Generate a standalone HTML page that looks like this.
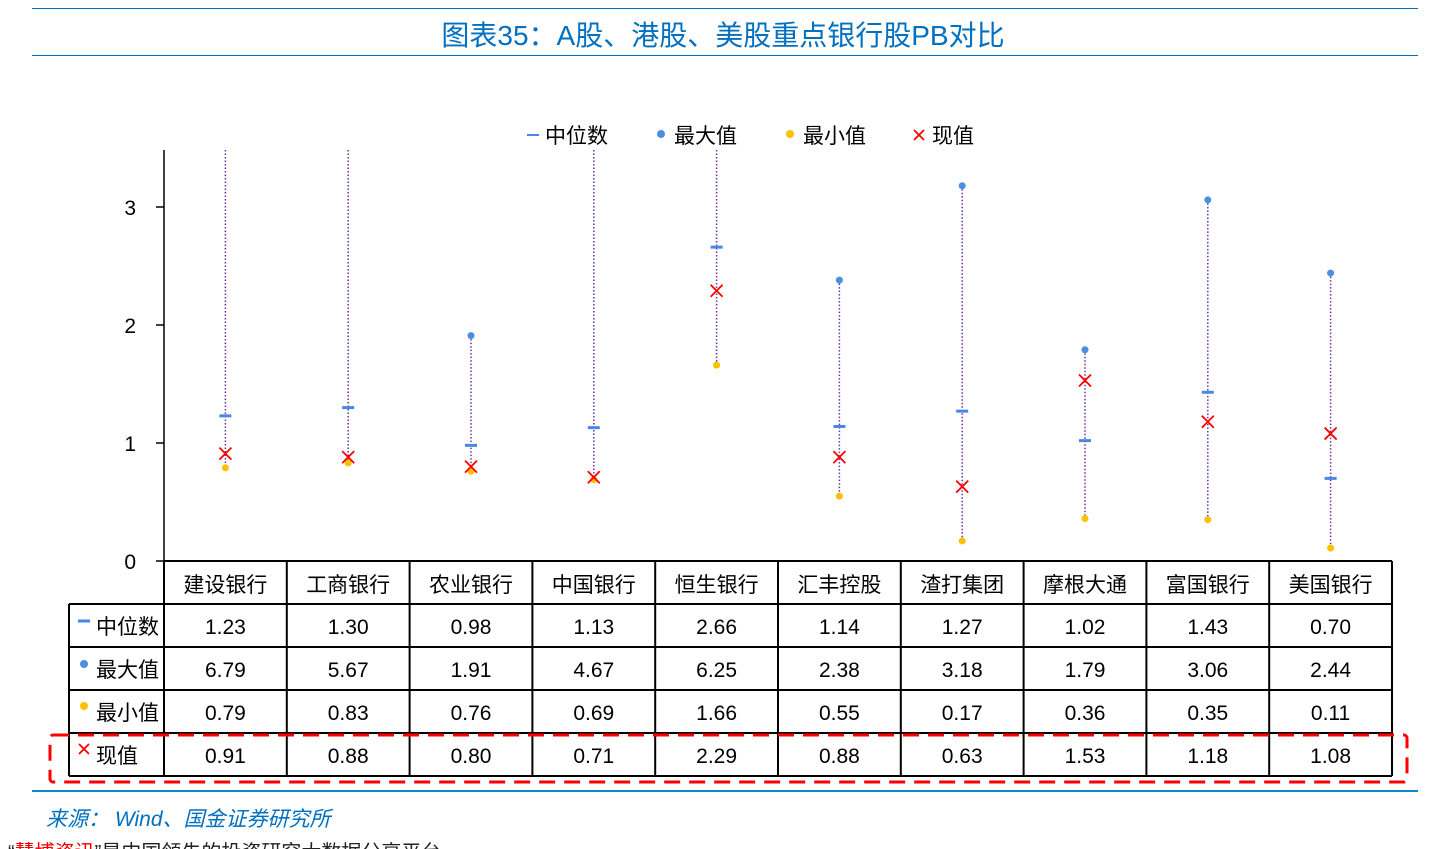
<!DOCTYPE html>
<html><head><meta charset="utf-8"><style>
html,body{margin:0;width:1440px;height:849px;overflow:hidden;background:#fff;font-family:"Liberation Sans","Noto Sans CJK SC",sans-serif;position:relative}
.abs{position:absolute}
</style></head><body>
<div class="abs" style="left:32px;top:8px;width:1386px;height:1px;background:#0070c0"></div>
<div class="abs" style="left:0;top:14px;width:1446px;text-align:center;font-size:28px;color:#0070c0">图表35：A股、港股、美股重点银行股PB对比</div>
<div class="abs" style="left:32px;top:55px;width:1386px;height:1px;background:#0070c0"></div>
<svg class="abs" style="left:0;top:0" width="1440" height="849" id="svg"></svg>
<div class="abs" style="left:32px;top:790px;width:1386px;height:2px;background:#0b8ad0"></div>
<div class="abs" style="left:46px;top:803px;font-size:21px;font-style:italic;color:#0070c0">来源： Wind、国金证券研究所</div>
<div class="abs" style="left:8px;top:836px;font-size:20px;color:#222">“<span style="color:#e00">慧博资讯</span>”是中国领先的投资研究大数据分享平台</div>
<script>
const banks=["建设银行","工商银行","农业银行","中国银行","恒生银行","汇丰控股","渣打集团","摩根大通","富国银行","美国银行"];
const median=[1.23,1.30,0.98,1.13,2.66,1.14,1.27,1.02,1.43,0.70];
const maxV=[6.79,5.67,1.91,4.67,6.25,2.38,3.18,1.79,3.06,2.44];
const minV=[0.79,0.83,0.76,0.69,1.66,0.55,0.17,0.36,0.35,0.11];
const cur=[0.91,0.88,0.80,0.71,2.29,0.88,0.63,1.53,1.18,1.08];
const yTicks=[0,1,2,3];
const svg=document.getElementById('svg');const NS='http://www.w3.org/2000/svg';
function mk(t,a,name,txt){const e=document.createElementNS(NS,t);for(const k in a)e.setAttribute(k,a[k]);


if(txt!==undefined)e.textContent=txt;svg.appendChild(e);return e;}
const X0=164,CW=122.8,Y0=561,YS=118,YTOP=150;
const x=i=>X0+CW*(i+0.5);
const y=v=>Math.max(YTOP,Y0-v*YS);
mk('line',{x1:X0,y1:YTOP,x2:X0,y2:Y0,stroke:'#000','stroke-width':1.5},'y-axis');
yTicks.forEach(t=>{mk('line',{x1:X0-8,y1:y(t),x2:X0,y2:y(t),stroke:'#000','stroke-width':1.5},'y-tick');
mk('text',{x:136,y:y(t)+8,'font-size':21,'text-anchor':'end',fill:'#000'},'y-tick-label',String(t));});
banks.forEach((b,i)=>{const cx=x(i);
mk('line',{x1:cx,y1:y(maxV[i]),x2:cx,y2:y(minV[i]),stroke:'#7030a0','stroke-width':1.5,'stroke-dasharray':'1.5,2'},'range-line');
if(Y0-maxV[i]*YS>YTOP)mk('circle',{cx:cx,cy:y(maxV[i]),r:3.5,fill:'#4a90e2'},'max-point');
mk('circle',{cx:cx,cy:y(minV[i]),r:3.5,fill:'#ffc000'},'min-point');
mk('line',{x1:cx-6,y1:y(median[i]),x2:cx+6,y2:y(median[i]),stroke:'#4a86e8','stroke-width':3},'median-mark');
const c=y(cur[i]);
mk('path',{d:`M${cx-6} ${c-6}L${cx+6} ${c+6}M${cx+6} ${c-6}L${cx-6} ${c+6}`,stroke:'#f00','stroke-width':1.8},'current-mark');});
mk('line',{x1:527,y1:135,x2:539,y2:135,stroke:'#4a86e8','stroke-width':2},'legend-median-icon');
mk('text',{x:545,y:143,'font-size':21},'legend-median','中位数');
mk('circle',{cx:661,cy:134,r:4,fill:'#4a90e2'},'legend-max-icon');
mk('text',{x:674,y:143,'font-size':21},'legend-max','最大值');
mk('circle',{cx:790,cy:134,r:4,fill:'#ffc000'},'legend-min-icon');
mk('text',{x:803,y:143,'font-size':21},'legend-min','最小值');
mk('path',{d:'M914 130L924 140M924 130L914 140',stroke:'#f00','stroke-width':1.8},'legend-current-icon');
mk('text',{x:932,y:143,'font-size':21},'legend-current','现值');
const rows=[median,maxV,minV,cur];const rowLabels=["中位数","最大值","最小值","现值"];
const RY=[561,604,647,690,733,776];
mk('line',{x1:X0,y1:561,x2:1392,y2:561,stroke:'#000','stroke-width':2},'table-top');
for(let r=1;r<RY.length;r++)mk('line',{x1:69,y1:RY[r],x2:1392,y2:RY[r],stroke:'#000','stroke-width':2},'table-row-line');
mk('line',{x1:69,y1:604,x2:69,y2:776,stroke:'#000','stroke-width':2},'table-left');
for(let i=0;i<=10;i++)mk('line',{x1:X0+CW*i,y1:561,x2:X0+CW*i,y2:776,stroke:'#000','stroke-width':2},'table-col-line');
banks.forEach((b,i)=>mk('text',{x:x(i),y:592,'font-size':21,'text-anchor':'middle'},'bank-header',b));
rowLabels.forEach((l,r)=>{const cy=RY[r+1]+30;mk('text',{x:96,y:cy,'font-size':21},'row-label',l);
rows[r].forEach((v,i)=>mk('text',{x:x(i),y:cy,'font-size':21,'text-anchor':'middle'},'cell-value',v.toFixed(2)));});
mk('line',{x1:78,y1:621,x2:90,y2:621,stroke:'#4a86e8','stroke-width':3},'row-icon-median');
mk('circle',{cx:84,cy:664,r:4,fill:'#4a90e2'},'row-icon-max');
mk('circle',{cx:84,cy:706,r:4,fill:'#ffc000'},'row-icon-min');
mk('path',{d:'M79 744L89 754M89 744L79 754',stroke:'#f00','stroke-width':1.8},'row-icon-current');
mk('rect',{x:50,y:735,width:1357,height:47,rx:3,fill:'none',stroke:'#f00','stroke-width':3,'stroke-dasharray':'16,9'},'highlight-box');
</script>
</body></html>
